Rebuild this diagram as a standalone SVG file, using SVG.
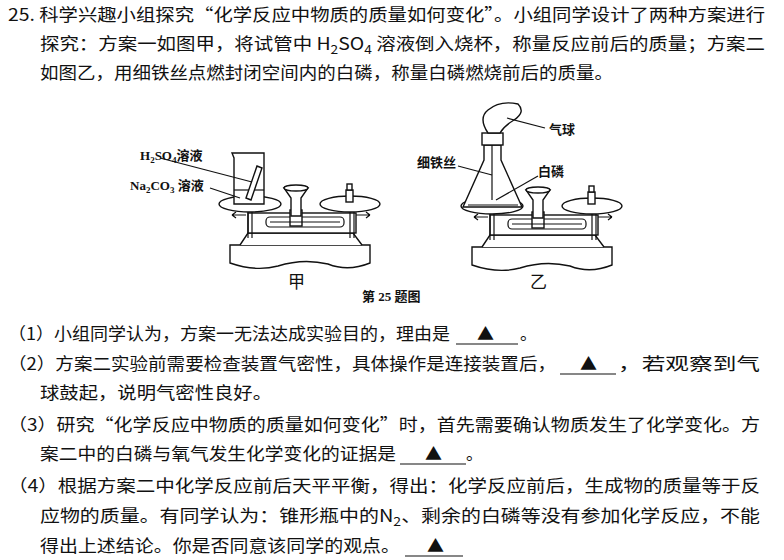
<svg xmlns="http://www.w3.org/2000/svg" width="784" height="560" viewBox="0 0 784 560">
<style>
.t{font-family:"Noto Sans CJK SC","Liberation Serif",serif;font-size:17px;fill:#111}
.l{font-family:"Liberation Serif","Noto Sans CJK SC",serif;font-size:13px;font-weight:bold;fill:#111}
.s{fill:#fff;stroke:#111;stroke-width:1.4}
.n{fill:none;stroke:#111;stroke-width:1.2}
.u{stroke:#111;stroke-width:1.2}
</style>
<defs>
<g id="bal">
<path class="s" d="M2,85 L142,85 L142,103 Q120,112 100,104 Q75,98 50,106 Q28,112 2,103 Z"/>
<path class="s" d="M12,85 L20,73 L125,73 L134,85"/>
<rect class="s" x="20" y="53" width="108" height="20"/>
<rect class="n" x="38" y="57" width="78" height="10" rx="4"/>
<rect class="s" x="62" y="50" width="12" height="16"/>
<line class="u" x1="42" y1="62" x2="112" y2="62"/>
<line class="u" x1="20" y1="42" x2="20" y2="78"/><line class="u" x1="24" y1="42" x2="24" y2="78"/>
<line class="u" x1="122" y1="42" x2="122" y2="78"/><line class="u" x1="126" y1="42" x2="126" y2="78"/>
<path class="u" d="M4,55 L18,55 M4,55 l4,-3 M4,55 l4,3 M142,55 L128,55 M142,55 l-4,-3 M142,55 l-4,3"/>
<path class="s" d="M56,28 L80,28 L73,38 L73,56 L63,56 L63,38 Z"/>
<ellipse class="s" cx="68" cy="28" rx="12" ry="3"/>
<ellipse class="s" cx="22" cy="44" rx="31" ry="8"/>
<ellipse class="s" cx="122" cy="44" rx="30" ry="8"/>
<rect class="s" x="118" y="30" width="7" height="12"/><rect class="s" x="119" y="24" width="5" height="6"/>
</g>
</defs>
<g id="text">
<text class="t" x="8" y="21" textLength="757" lengthAdjust="spacingAndGlyphs">25. 科学兴趣小组探究“化学反应中物质的质量如何变化”。小组同学设计了两种方案进行</text>
<text class="t" x="40" y="50" textLength="725" lengthAdjust="spacingAndGlyphs">探究：方案一如图甲，将试管中 H<tspan font-size="12" dy="4">2</tspan><tspan dy="-4">SO</tspan><tspan font-size="12" dy="4">4</tspan><tspan dy="-4"> 溶液倒入烧杯，称量反应前后的质量；方案二</tspan></text>
<text class="t" x="40" y="79" textLength="573" lengthAdjust="spacingAndGlyphs">如图乙，用细铁丝点燃封闭空间内的白磷，称量白磷燃烧前后的质量。</text>
<text class="t" x="8" y="340" textLength="442" lengthAdjust="spacingAndGlyphs">（1）小组同学认为，方案一无法达成实验目的，理由是</text>
<text class="t" x="477" y="340">▲</text><text class="t" x="520" y="340">。</text>
<line class="u" x1="456" y1="344" x2="518" y2="344"/>
<text class="t" x="8" y="370" textLength="548" lengthAdjust="spacingAndGlyphs">（2）方案二实验前需要检查装置气密性，具体操作是连接装置后，</text>
<text class="t" x="580" y="370">▲</text>
<text class="t" x="618" y="370" textLength="142" lengthAdjust="spacingAndGlyphs">，若观察到气</text>
<line class="u" x1="560" y1="374" x2="616" y2="374"/>
<text class="t" x="40" y="399" textLength="232" lengthAdjust="spacingAndGlyphs">球鼓起，说明气密性良好。</text>
<text class="t" x="8" y="431" textLength="752" lengthAdjust="spacingAndGlyphs">（3）研究“化学反应中物质的质量如何变化”时，首先需要确认物质发生了化学变化。方</text>
<text class="t" x="40" y="460" textLength="356" lengthAdjust="spacingAndGlyphs">案二中的白磷与氧气发生化学变化的证据是</text>
<text class="t" x="425" y="460">▲</text><text class="t" x="466" y="460">。</text>
<line class="u" x1="400" y1="464" x2="466" y2="464"/>
<text class="t" x="8" y="492" textLength="752" lengthAdjust="spacingAndGlyphs">（4）根据方案二中化学反应前后天平平衡，得出：化学反应前后，生成物的质量等于反</text>
<text class="t" x="40" y="522" textLength="720" lengthAdjust="spacingAndGlyphs">应物的质量。有同学认为：锥形瓶中的N<tspan font-size="12" dy="4">2</tspan><tspan dy="-4">、剩余的白磷等没有参加化学反应，不能</tspan></text>
<text class="t" x="40" y="552" textLength="360" lengthAdjust="spacingAndGlyphs">得出上述结论。你是否同意该同学的观点。</text>
<text class="t" x="427" y="552">▲</text>
<line class="u" x1="405" y1="556" x2="463" y2="556"/>
</g>
<g id="fig-jia">
<use href="#bal" x="228" y="160"/>
<path class="s" d="M232,153 L264,153 L264,204 L234,204 L234,158 Z"/>
<line class="n" x1="234" y1="190" x2="264" y2="190"/>
<path class="s" d="M246,198 L257,166 L262,168 L251,200 Z"/>
<line class="n" x1="160" y1="158" x2="252" y2="182"/>
<line class="n" x1="210" y1="188" x2="240" y2="198"/>
<text class="l" x="140" y="160">H<tspan font-size="9" dy="3">2</tspan><tspan dy="-3">SO</tspan><tspan font-size="9" dy="3">4</tspan><tspan dy="-3">溶液</tspan></text>
<text class="l" x="130" y="190">Na<tspan font-size="9" dy="3">2</tspan><tspan dy="-3">CO</tspan><tspan font-size="9" dy="3">3</tspan><tspan dy="-3"> 溶液</tspan></text>
<text class="t" x="288" y="288" font-size="14">甲</text>
</g>
<g id="fig-yi">
<use href="#bal" x="470" y="162"/>
<path class="s" d="M484,145 L501,145 L501,160 L522,207 L463,207 L484,160 Z"/>
<rect class="s" x="482" y="133" width="21" height="12"/>
<path class="s" d="M488,133 Q478,118 488,110 Q500,100 518,104 Q526,112 514,120 Q504,126 500,133 Z"/>
<line class="n" x1="507" y1="118" x2="545" y2="128"/>
<line class="n" x1="492" y1="145" x2="492" y2="200"/>
<line class="n" x1="458" y1="166" x2="492" y2="175"/>
<line class="n" x1="496" y1="200" x2="538" y2="176"/>
<line class="u" x1="468" y1="205" x2="518" y2="205" stroke-width="2"/>
<text class="l" x="549" y="134">气球</text>
<text class="l" x="417" y="167">细铁丝</text>
<text class="l" x="538" y="176">白磷</text>
<text class="t" x="530" y="288" font-size="14">乙</text>
</g>
<text class="l" x="362" y="301">第 25 题图</text>
</svg>
